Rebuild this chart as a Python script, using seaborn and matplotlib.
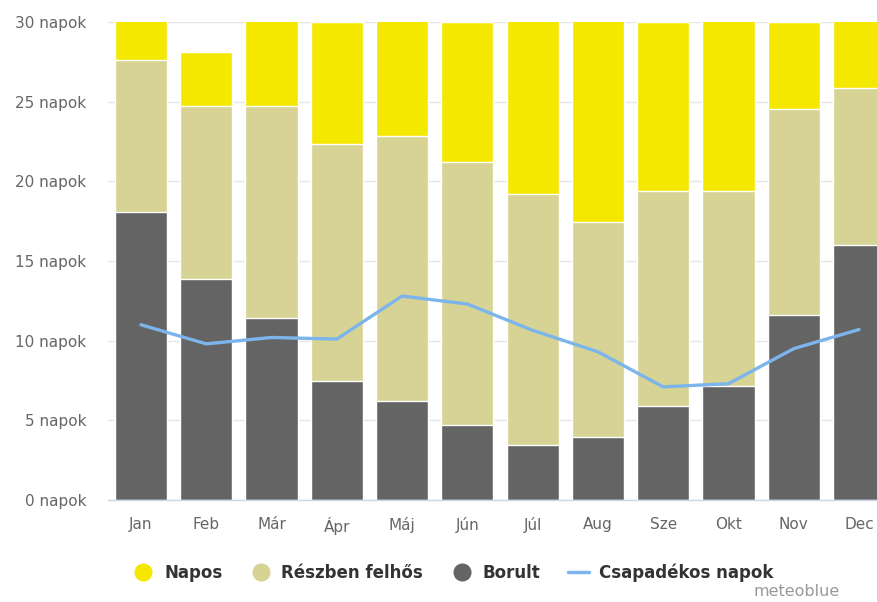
import numpy as np
import pandas as pd
import matplotlib
matplotlib.use("Agg")
import matplotlib.pyplot as plt
from matplotlib.lines import Line2D
import seaborn as sns

months = ["Jan", "Feb", "Már", "Ápr", "Máj", "Jún", "Júl", "Aug", "Sze", "Okt", "Nov", "Dec"]
overcast = [18.1, 13.9, 11.4, 7.5, 6.2, 4.7, 3.45, 3.95, 5.9, 7.15, 11.6, 16.0]
partly = [9.5, 10.8, 13.35, 14.85, 16.65, 16.5, 15.75, 13.5, 13.5, 12.25, 12.95, 9.85]
sunny = [3.4, 3.4, 6.25, 7.65, 8.15, 8.8, 11.8, 13.55, 10.6, 11.6, 5.45, 5.15]
precip_days = [11.0, 9.8, 10.2, 10.1, 12.8, 12.3, 10.65, 9.3, 7.1, 7.3, 9.5, 10.7]
yticks = [0, 5, 10, 15, 20, 25, 30]

C_SUN = "#f4e800"
C_PART = "#d7d395"
C_OVER = "#646464"
C_LINE = "#7cb5ec"

df = pd.DataFrame({"month": months, "overcast": overcast, "partly": partly,
                   "sunny": sunny, "precip": precip_days})
df["top_partly"] = df["overcast"] + df["partly"]
df["top_sunny"] = df["top_partly"] + df["sunny"]

sns.set_style("white")
fig = plt.figure(figsize=(8.77, 6.02), dpi=100)
ax = fig.add_axes([108.3 / 877, 1 - 500 / 602, (891.7 - 108.3) / 877, 478 / 602])

for col, c in [("top_sunny", C_SUN), ("top_partly", C_PART), ("overcast", C_OVER)]:
    sns.barplot(data=df, x="month", y=col, color=c, width=0.8, ax=ax,
                edgecolor="white", linewidth=1, saturation=1, zorder=2)

sns.lineplot(x=np.arange(len(months)), y=df["precip"], color=C_LINE, linewidth=2.4,
             ax=ax, zorder=3)

ax.set_xlim(-0.5, 11.5)
ax.set_ylim(0, 30)
ax.set_yticks(yticks)
ax.set_yticklabels([f"{v} napok" for v in yticks])
ax.set_xlabel("")
ax.set_ylabel("")
ax.yaxis.grid(True, color="#e6e6e6", linewidth=1, zorder=0)
ax.set_axisbelow(True)
for s in ["top", "right", "left"]:
    ax.spines[s].set_visible(False)
ax.spines["bottom"].set_color("#ccd6eb")
ax.spines["bottom"].set_linewidth(1)
ax.spines["bottom"].set_zorder(5)
ax.tick_params(axis="both", length=0, labelsize=11, colors="#666666")
ax.tick_params(axis="x", pad=12)
ax.tick_params(axis="y", pad=16)
for lab in ax.get_yticklabels():
    lab.set_horizontalalignment("right")

handles = [
    Line2D([], [], marker="o", linestyle="none", markersize=12, color=C_SUN),
    Line2D([], [], marker="o", linestyle="none", markersize=12, color=C_PART),
    Line2D([], [], marker="o", linestyle="none", markersize=12, color=C_OVER),
    Line2D([], [], color=C_LINE, linewidth=2.5),
]
labels = ["Napos", "Részben felhős", "Borult", "Csapadékos napok"]
leg = fig.legend(handles, labels, loc="center", bbox_to_anchor=(453 / 877, 1 - 573 / 602),
                 ncol=4, frameon=False, handlelength=1.3, handletextpad=0.6,
                 columnspacing=1.65, prop={"size": 12, "weight": "bold"})
for t in leg.get_texts():
    t.set_color("#333333")

fig.text(840 / 877, 1 - 592 / 602, "meteoblue", ha="right", va="center",
         fontsize=11.5, color="#999999")

fig.savefig("out.png", dpi=100)
